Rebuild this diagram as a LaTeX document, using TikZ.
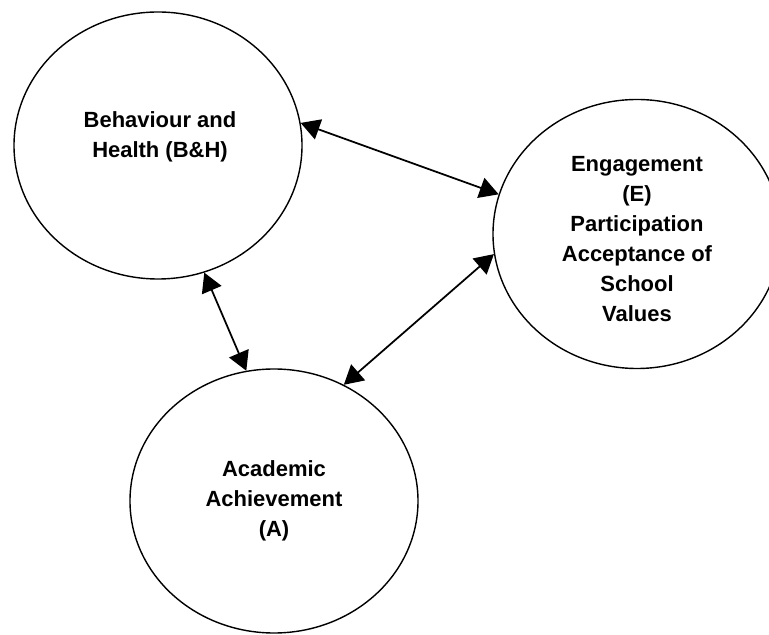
\documentclass[tikz,border=0pt]{standalone}
\usepackage{fontspec}
\setmainfont{Liberation Sans}
\usetikzlibrary{shapes.geometric,arrows.meta}

\begin{document}
\begin{tikzpicture}[
    every node/.style={ellipse, draw, line width=0.8pt, inner sep=0pt,
    minimum width=5.76cm, minimum height=5.34cm, align=center,
    font=\bfseries\fontsize{12.5}{17}\selectfont},
    link/.style={{Triangle[length=0.38cm, width=0.42cm]}-{Triangle[length=0.38cm, width=0.42cm]},
    line width=1pt}]

    \useasboundingbox (0,0) rectangle (15.38,12.7);

    \node (bh) at (3.16,9.79) {};
    \node (bhtext) [draw=none, minimum width=0pt, minimum height=0pt] at (3.2,9.97)
        {Behaviour and\\Health (B\&H)};
    \node (eng) [minimum height=5.38cm] at (12.74,8.02)
        {\\[-0.1cm]Engagement\\(E)\\Participation\\Acceptance of\\School\\Values};
    \node (acad) [minimum height=5.28cm] at (5.48,2.68)
        {Academic\\Achievement\\(A)};

    \draw[link] (bh.9.6) -- (eng.164.8);
    \draw[link] (bh.-70) -- (acad.102);
    \draw[link] (acad.59) -- (eng.188);
\end{tikzpicture}
\end{document}
